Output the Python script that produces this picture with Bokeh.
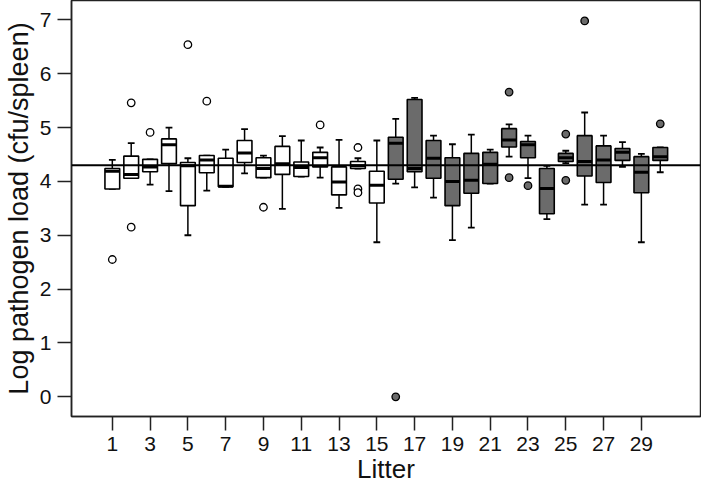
from bokeh.plotting import figure
from bokeh.models import FixedTicker, Range1d, Span, ColumnDataSource
from bokeh.embed import file_html
from bokeh.resources import INLINE

litters = list(range(1, 31))
whisker_low = [3.86, 4.06, 3.94, 3.82, 3.00, 3.83, 3.90, 4.15, 4.07, 3.49,
               4.09, 4.07, 3.51, 4.24, 2.87, 3.96, 3.89, 3.70, 2.91, 3.14,
               3.96, 4.46, 4.06, 3.30, 4.34, 3.57, 3.57, 4.27, 2.87, 4.17]
q1 = [3.86, 4.06, 4.18, 4.33, 3.55, 4.16, 3.90, 4.35, 4.07, 4.13,
      4.09, 4.27, 3.75, 4.24, 3.60, 4.04, 4.18, 4.06, 3.55, 3.78,
      3.96, 4.64, 4.44, 3.40, 4.37, 4.10, 3.98, 4.39, 3.79, 4.39]
median = [4.19, 4.13, 4.27, 4.68, 4.29, 4.40, 3.91, 4.53, 4.24, 4.33,
          4.26, 4.44, 3.99, 4.29, 3.93, 4.71, 4.24, 4.43, 4.00, 4.02,
          4.32, 4.77, 4.68, 3.87, 4.44, 4.37, 4.40, 4.54, 4.17, 4.46]
q3 = [4.24, 4.47, 4.41, 4.79, 4.35, 4.48, 4.43, 4.76, 4.44, 4.65,
      4.36, 4.54, 4.27, 4.37, 4.19, 4.82, 5.52, 4.76, 4.44, 4.52,
      4.54, 4.98, 4.74, 4.24, 4.52, 4.85, 4.66, 4.61, 4.46, 4.63]
whisker_high = [4.40, 4.71, 4.41, 5.00, 4.43, 4.48, 4.59, 4.97, 4.48, 4.84,
                4.76, 4.63, 4.77, 4.43, 4.76, 5.16, 5.55, 4.85, 4.69, 4.87,
                4.59, 5.06, 4.85, 4.29, 4.57, 5.28, 4.85, 4.73, 4.51, 4.63]
group = ["A"] * 15 + ["B"] * 15

outlier_litter = [1, 2, 2, 3, 5, 6, 9, 12, 14, 14, 14,
                  16, 22, 22, 23, 25, 25, 26, 30]
outlier_value = [2.55, 5.46, 3.15, 4.91, 6.54, 5.49, 3.52, 5.05, 4.63, 3.86, 3.79,
                 0.00, 5.66, 4.07, 3.92, 4.88, 4.02, 6.98, 5.07]

reference_level = 4.3
x_ticks = list(range(1, 30, 2))
y_ticks = list(range(0, 8))
x_title = "Litter"
y_title = "Log pathogen load (cfu/spleen)"

FONT = "Liberation Sans"
GRAY = "#6b6b6b"
fill_map = {"A": "white", "B": GRAY}
BW = 0.78
CW = 0.36

box_src = ColumnDataSource(dict(
    x=litters, lo=whisker_low, q1=q1, med=median, q3=q3, hi=whisker_high,
    fill=[fill_map[g] for g in group],
    xl=[x - BW / 2 for x in litters], xr=[x + BW / 2 for x in litters],
    cl=[x - CW / 2 for x in litters], cr=[x + CW / 2 for x in litters],
))
out_src = ColumnDataSource(dict(
    x=outlier_litter, y=outlier_value,
    fill=[fill_map["A"] if l <= 15 else fill_map["B"] for l in outlier_litter],
))

p = figure(width=701, height=489,
           x_range=Range1d(-1.16, 32.13), y_range=Range1d(-0.366, 7.36),
           output_backend="svg", toolbar_location=None,
           min_border_left=66, min_border_right=1, min_border_top=0, min_border_bottom=73)

p.xgrid.visible = False
p.ygrid.visible = False
p.outline_line_color = "#222222"
p.outline_line_width = 1.5
p.background_fill_color = "white"
p.border_fill_color = "white"

# whiskers
p.segment(x0="x", y0="q3", x1="x", y1="hi", source=box_src, line_color="black", line_width=1.5)
p.segment(x0="x", y0="q1", x1="x", y1="lo", source=box_src, line_color="black", line_width=1.5)
p.segment(x0="cl", y0="hi", x1="cr", y1="hi", source=box_src, line_color="black", line_width=1.8)
p.segment(x0="cl", y0="lo", x1="cr", y1="lo", source=box_src, line_color="black", line_width=1.8)
# boxes
p.vbar(x="x", width=BW, bottom="q1", top="q3", source=box_src,
       fill_color="fill", line_color="black", line_width=1.6)
# medians
p.segment(x0="xl", y0="med", x1="xr", y1="med", source=box_src, line_color="black", line_width=3)

# reference line
p.add_layout(Span(location=reference_level, dimension="width", line_color="black", line_width=2))

# outliers
p.scatter(x="x", y="y", source=out_src, marker="circle", size=7.5,
          fill_color="fill", line_color="black", line_width=1.3)

for ax in (p.xaxis[0], p.yaxis[0]):
    ax.axis_line_color = "#222222"
    ax.axis_line_width = 1.5
    ax.major_tick_line_color = "#222222"
    ax.major_tick_line_width = 1.5
    ax.major_tick_out = 14
    ax.major_tick_in = 0
    ax.minor_tick_line_color = None
    ax.major_label_text_font = FONT
    ax.major_label_text_font_size = "21px"
    ax.major_label_text_color = "#111111"
    ax.axis_label_text_font = FONT
    ax.axis_label_text_font_style = "normal"
    ax.axis_label_text_color = "#111111"

p.xaxis.axis_label_text_font_size = "26px"
p.yaxis.axis_label_text_font_size = "27px"
p.xaxis.ticker = FixedTicker(ticks=x_ticks)
p.yaxis.ticker = FixedTicker(ticks=y_ticks)
p.xaxis.axis_label = x_title
p.yaxis.axis_label = y_title
p.xaxis.major_label_standoff = 6
p.xaxis.axis_label_standoff = 0
p.yaxis.major_label_standoff = 6
p.yaxis.axis_label_standoff = 3

open("out.html", "w").write(file_html(p, INLINE))
